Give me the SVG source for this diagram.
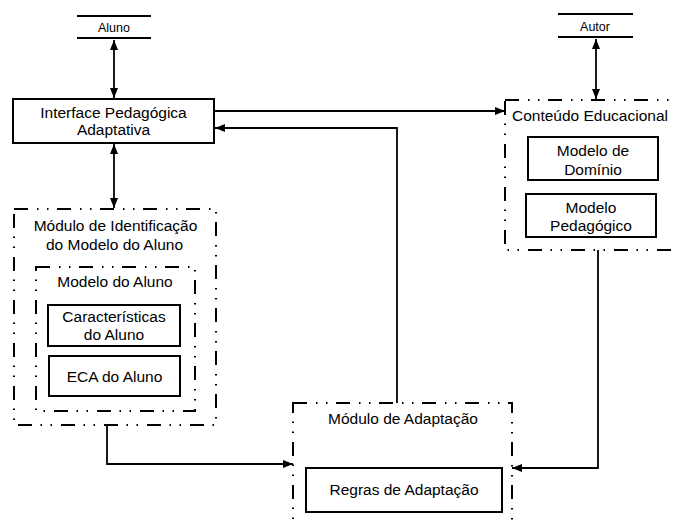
<svg xmlns="http://www.w3.org/2000/svg" width="673" height="523" viewBox="0 0 673 523">
<defs>
<marker id="ah" viewBox="0 0 10 8" refX="10" refY="4" markerWidth="10" markerHeight="8" markerUnits="userSpaceOnUse" orient="auto-start-reverse">
<path d="M0,0 L10,4 L0,8 z" fill="#000"/>
</marker>
<style>
text{font-family:"Liberation Sans",Arial,sans-serif;font-size:15.5px;fill:#000;text-anchor:middle}
.sm{font-size:12.5px}
.box{fill:#fff;stroke:#000;stroke-width:2}
.dd{fill:none;stroke:#000;stroke-width:2;stroke-dasharray:14,9,1.5,8.5,1.5,8.5}
.ln{stroke:#000;stroke-width:2}
.cn{fill:none;stroke:#000;stroke-width:1.8}
</style>
</defs>
<rect width="673" height="523" fill="#fff"/>

<g id="aluno">
<line class="ln" x1="77" y1="16" x2="151" y2="16"/>
<line class="ln" x1="77" y1="38" x2="151" y2="38"/>
<text class="sm" x="114" y="31.5">Aluno</text>
</g>

<g id="autor">
<line class="ln" x1="558" y1="14" x2="633" y2="14"/>
<line class="ln" x1="558" y1="37" x2="633" y2="37"/>
<text class="sm" x="595" y="30.5">Autor</text>
</g>

<g id="interface">
<rect class="box" x="13" y="99" width="201" height="44"/>
<text x="113.5" y="118">Interface Pedagógica</text>
<text x="113.5" y="135">Adaptativa</text>
</g>

<g id="conteudo">
<rect class="dd" x="505" y="100" width="180" height="150"/>
<text x="512" y="121" style="text-anchor:start">Conteúdo Educacional</text>
</g>

<g id="dominio">
<rect class="box" x="528" y="137" width="130" height="43"/>
<text x="593" y="156">Modelo de</text>
<text x="593" y="174.5">Domínio</text>
</g>

<g id="pedagogico">
<rect class="box" x="526" y="194" width="130" height="43"/>
<text x="591" y="213">Modelo</text>
<text x="591" y="230.5">Pedagógico</text>
</g>

<g id="identificacao">
<rect class="dd" x="14" y="209" width="202" height="216"/>
<text x="115.5" y="231">Módulo de Identificação</text>
<text x="114.5" y="249.5">do Modelo do Aluno</text>
</g>

<g id="modelo-aluno">
<rect class="dd" x="36" y="267" width="159" height="144"/>
<text x="115" y="287">Modelo do Aluno</text>
</g>

<g id="caracteristicas">
<rect class="box" x="48" y="305" width="132" height="41"/>
<text x="114" y="322">Características</text>
<text x="114" y="340">do Aluno</text>
</g>

<g id="eca">
<rect class="box" x="49" y="356" width="131" height="40"/>
<text x="114.5" y="382">ECA do Aluno</text>
</g>

<g id="adaptacao">
<rect class="dd" x="293" y="403" width="219" height="130"/>
<text x="403" y="424">Módulo de Adaptação</text>
</g>

<g id="regras">
<rect class="box" x="306" y="468" width="196" height="44"/>
<text x="404" y="494.5">Regras de Adaptação</text>
</g>

<g id="connectors">
<line class="cn" x1="114" y1="40" x2="114" y2="98" marker-start="url(#ah)" marker-end="url(#ah)"/>
<line class="cn" x1="596" y1="39" x2="596" y2="99" marker-start="url(#ah)" marker-end="url(#ah)"/>
<line class="cn" x1="114" y1="144" x2="114" y2="208" marker-start="url(#ah)" marker-end="url(#ah)"/>
<line class="cn" x1="214" y1="111" x2="505" y2="111" marker-end="url(#ah)"/>
<polyline class="cn" points="397,403 397,128 215,128" marker-end="url(#ah)"/>
<polyline class="cn" points="107,425 107,464 293,464" marker-end="url(#ah)"/>
<polyline class="cn" points="598,250 598,468 512,468" marker-end="url(#ah)"/>
</g>
</svg>
